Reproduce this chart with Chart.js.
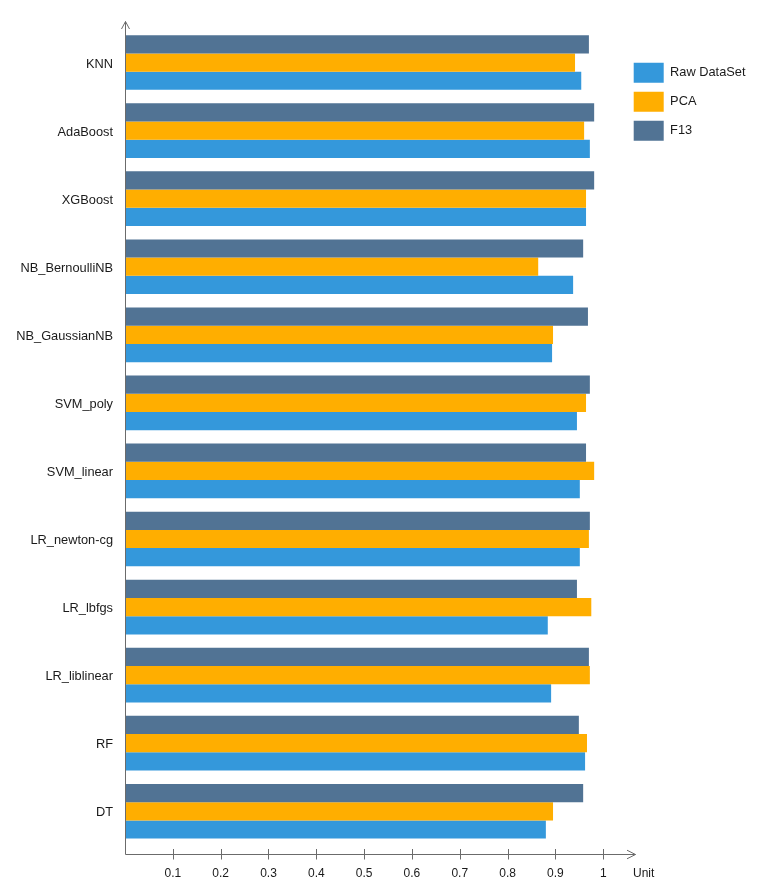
<!DOCTYPE html>
<html>
<head>
<meta charset="utf-8">
<script src="https://cdn.jsdelivr.net/npm/chart.js@4/dist/chart.umd.min.js"></script>
<style>
  html, body { margin: 0; padding: 0; background: #fff; }
  #wrap { width: 759px; height: 896px; position: relative; }
</style>
</head>
<body>
<div id="wrap"><canvas id="c"></canvas></div>
<script>
const categories = ['KNN', 'AdaBoost', 'XGBoost', 'NB_BernoulliNB', 'NB_GaussianNB', 'SVM_poly', 'SVM_linear', 'LR_newton-cg', 'LR_lbfgs', 'LR_liblinear', 'RF', 'DT'];
const rawDataSet = [0.954, 0.972, 0.964, 0.937, 0.893, 0.945, 0.951, 0.951, 0.884, 0.891, 0.962, 0.880];
const pca        = [0.941, 0.960, 0.964, 0.864, 0.895, 0.964, 0.981, 0.970, 0.975, 0.972, 0.966, 0.895];
const f13        = [0.970, 0.981, 0.981, 0.958, 0.968, 0.972, 0.964, 0.972, 0.945, 0.970, 0.949, 0.958];
const xTickValues = [0.1, 0.2, 0.3, 0.4, 0.5, 0.6, 0.7, 0.8, 0.9, 1];
const xAxisTitle = 'Unit';

Chart.defaults.font.family = '"Liberation Sans", Arial, sans-serif';
Chart.defaults.font.size = 12;
Chart.defaults.color = '#1a1a1a';

const AXIS_COLOR = '#6b6b6b';

const axesPlugin = {
  id: 'arrowAxes',
  afterLayout(chart) {
    if (chart.legend) { chart.legend.top += 25.2; chart.legend.left -= 1.5; }
  },
  afterDraw(chart) {
    const { ctx, chartArea, scales } = chart;
    const xs = scales.x;
    const x0 = Math.round(xs.getPixelForValue(0)) + 0.5;
    const yAx = Math.round(chartArea.bottom + 9) + 0.5;
    const yTop = chartArea.top - 7;
    const xEnd = 635.5;
    ctx.save();
    ctx.strokeStyle = AXIS_COLOR;
    ctx.lineWidth = 1;
    // y axis
    ctx.beginPath();
    ctx.moveTo(x0, yAx);
    ctx.lineTo(x0, yTop);
    ctx.stroke();
    ctx.beginPath();
    ctx.moveTo(x0 - 4, yTop + 7.5);
    ctx.lineTo(x0, yTop);
    ctx.lineTo(x0 + 4, yTop + 7.5);
    ctx.stroke();
    // x axis
    ctx.beginPath();
    ctx.moveTo(x0, yAx);
    ctx.lineTo(xEnd, yAx);
    ctx.stroke();
    ctx.beginPath();
    ctx.moveTo(xEnd - 8.5, yAx - 4.3);
    ctx.lineTo(xEnd, yAx);
    ctx.lineTo(xEnd - 8.5, yAx + 4.3);
    ctx.stroke();
    // ticks
    xTickValues.forEach(v => {
      const px = Math.round(xs.getPixelForValue(v)) + 0.5;
      ctx.beginPath();
      ctx.moveTo(px, yAx - 5.5);
      ctx.lineTo(px, yAx + 5);
      ctx.stroke();
    });
    // axis title
    ctx.fillStyle = '#1a1a1a';
    ctx.font = '12px "Liberation Sans", Arial, sans-serif';
    ctx.textAlign = 'left';
    ctx.textBaseline = 'alphabetic';
    ctx.fillText(xAxisTitle, 633, yAx + 22);
    ctx.restore();
  }
};

new Chart(document.getElementById('c'), {
  type: 'bar',
  data: {
    labels: categories,
    datasets: [
      { label: 'F13', data: f13, backgroundColor: '#517394' },
      { label: 'PCA', data: pca, backgroundColor: '#FFAE00' },
      { label: 'Raw DataSet', data: rawDataSet, backgroundColor: '#3498DB' }
    ]
  },
  options: {
    indexAxis: 'y',
    responsive: true,
    maintainAspectRatio: false,
    animation: false,
    layout: { padding: { top: 28.5, right: 2, bottom: 0, left: 0 } },
    datasets: { bar: { categoryPercentage: 0.803, barPercentage: 1.0, borderWidth: 0 } },
    scales: {
      x: {
        type: 'linear',
        position: 'bottom',
        min: 0,
        max: 1.048,
        grid: { display: false },
        border: { display: false },
        afterBuildTicks: (s) => { s.ticks = xTickValues.map(v => ({ value: v })); },
        afterFit: (s) => { s.height = 50.7; },
        ticks: {
          padding: 13,
          autoSkip: false,
          maxRotation: 0,
          color: '#1a1a1a',
          font: { size: 12 },
          callback: (v) => String(+Number(v).toFixed(2))
        }
      },
      y: {
        type: 'category',
        grid: { display: false },
        border: { display: false },
        afterFit: (s) => { s.width = 125; },
        ticks: { padding: 4, labelOffset: 1.5, color: '#1a1a1a', autoSkip: false, font: { size: 12.8 } }
      }
    },
    plugins: {
      legend: {
        position: 'right',
        align: 'start',
        reverse: true,
        labels: { boxWidth: 30, boxHeight: 20, padding: 9, color: '#1a1a1a', font: { size: 12.8 } }
      },
      tooltip: { enabled: false }
    }
  },
  plugins: [axesPlugin]
});
</script>
</body>
</html>
